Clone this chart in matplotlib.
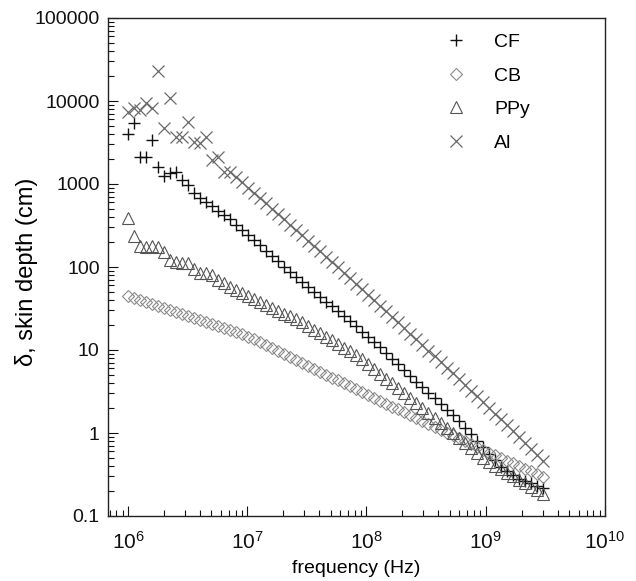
import matplotlib
matplotlib.use("Agg")
import matplotlib.pyplot as plt
from matplotlib.ticker import LogLocator, FixedLocator, FixedFormatter, NullFormatter

plt.rcParams['font.family'] = ['Liberation Sans', 'DejaVu Sans']
plt.rcParams['mathtext.fontset'] = 'custom'
plt.rcParams['mathtext.rm'] = 'Liberation Sans'
plt.rcParams['mathtext.it'] = 'Liberation Sans'

# frequency sweep (MHz)
freq_mhz = [1.000, 1.123, 1.261, 1.416, 1.591, 1.786, 2.006, 2.253, 2.531, 2.842,
            3.192, 3.585, 4.026, 4.522, 5.078, 5.702, 6.405, 7.193, 8.078, 9.071,
            10.19, 11.44, 12.85, 14.43, 16.21, 18.20, 20.44, 22.96, 25.78, 28.95,
            32.51, 36.51, 41.01, 46.05, 51.72, 58.08, 65.23, 73.25, 82.27, 92.39,
            103.8, 116.5, 130.9, 147.0, 165.1, 185.4, 208.2, 233.8, 262.6, 294.9,
            331.1, 371.9, 417.7, 469.1, 526.8, 591.6, 664.4, 746.2, 838.0, 941.1,
            1057, 1187, 1333, 1497, 1681, 1888, 2120, 2381, 2674, 3003]

cf = [3970, 5380, 2100, 2100, 3390, 1616, 1250, 1345, 1384, 1117,
      972, 773, 685, 608, 540, 479, 425, 376, 325, 281,
      243, 210, 182, 157, 136, 117, 101, 87.3, 75.3, 65.3,
      57.3, 50.0, 43.8, 38.3, 33.5, 29.2, 25.4, 22.1, 19.3, 16.7,
      14.5, 12.5, 10.8, 9.19, 7.84, 6.70, 5.71, 4.89, 4.16, 3.56,
      3.05, 2.61, 2.23, 1.90, 1.63, 1.38, 1.16, 0.97, 0.81, 0.68,
      0.566, 0.471, 0.394, 0.353, 0.316, 0.283, 0.263, 0.247, 0.232, 0.217]

cb = [44.2, 41.9, 39.6, 37.6, 35.6, 33.7, 32.0, 30.3, 28.7, 27.2,
      25.8, 24.4, 23.1, 21.9, 20.8, 19.6, 18.6, 17.5, 16.5, 15.5,
      14.5, 13.4, 12.4, 11.4, 10.5, 9.68, 8.91, 8.20, 7.55, 6.95,
      6.41, 5.92, 5.46, 5.04, 4.66, 4.30, 3.96, 3.66, 3.37, 3.12,
      2.88, 2.65, 2.45, 2.26, 2.08, 1.93, 1.78, 1.64, 1.51, 1.40,
      1.29, 1.19, 1.10, 1.01, 0.936, 0.865, 0.798, 0.736, 0.679, 0.627,
      0.579, 0.537, 0.499, 0.463, 0.431, 0.400, 0.372, 0.345, 0.321, 0.298]

ppy = [386, 236, 179, 173, 179, 173, 153, 121, 116, 113,
       111, 95, 84, 84, 80, 70, 65, 58, 53.0, 48.8,
       45.0, 41.4, 38.2, 35.2, 32.4, 29.9, 27.5, 25.4, 23.4, 21.5,
       19.5, 17.6, 16.0, 14.5, 13.1, 11.8, 10.7, 9.71, 8.79, 7.83,
       6.84, 5.96, 5.20, 4.53, 3.95, 3.44, 3.01, 2.62, 2.29, 1.99,
       1.74, 1.52, 1.32, 1.15, 1.00, 0.873, 0.760, 0.662, 0.575, 0.501,
       0.447, 0.405, 0.368, 0.334, 0.303, 0.275, 0.249, 0.226, 0.205, 0.186]

al = [7430, 8170, 7800, 9370, 8170, 23200, 4690, 10800, 3720, 3720,
      5640, 3240, 3090, 3720, 1950, 2130, 1410, 1390, 1208, 1045,
      905, 782, 676, 585, 505, 436, 377, 325, 281, 242,
      208, 180, 155, 133, 115, 98.7, 84.9, 72.9, 62.7, 53.9,
      46.2, 39.7, 34.0, 29.2, 25.0, 21.5, 18.4, 15.7, 13.5, 11.5,
      9.84, 8.41, 7.19, 6.14, 5.24, 4.47, 3.81, 3.25, 2.77, 2.36,
      2.01, 1.71, 1.46, 1.24, 1.05, 0.895, 0.760, 0.645, 0.547, 0.465]

labels = ['CF', 'CB', 'PPy', 'Al']
y_ticks = [0.1, 1, 10, 100, 1000, 10000, 100000]
y_ticklabels = ['0.1', '1', '10', '100', '1000', '10000', '100000']
x_ticks = [1e6, 1e7, 1e8, 1e9, 1e10]
x_ticklabels = [r'$10^{6}$', r'$10^{7}$', r'$10^{8}$', r'$10^{9}$', r'$10^{10}$']

freq = [f * 1e6 for f in freq_mhz]

fig = plt.figure(figsize=(6.36, 5.81), dpi=100)
ax = fig.add_axes([108/636, 1-516/581, (605-108)/636, (516-18)/581])

ax.plot(freq, cf, linestyle='none', marker='+', ms=9, mew=1.0, color='#111111', label=labels[0])
ax.plot(freq, cb, linestyle='none', marker='D', ms=6, mew=0.8, mfc='none', color='#8a8a8a', label=labels[1])
ax.plot(freq, ppy, linestyle='none', marker='^', ms=8, mew=0.8, mfc='none', color='#555555', label=labels[2])
ax.plot(freq, al, linestyle='none', marker='x', ms=9, mew=0.9, color='#6a6a6a', label=labels[3])

ax.set_xscale('log')
ax.set_yscale('log')
ax.set_xlim(6.8e5, 1e10)
ax.set_ylim(0.1, 1e5)

ax.xaxis.set_major_locator(FixedLocator(x_ticks))
ax.xaxis.set_major_formatter(FixedFormatter(x_ticklabels))
ax.xaxis.set_minor_locator(LogLocator(base=10, subs=range(2, 10)))
ax.xaxis.set_minor_formatter(NullFormatter())
ax.yaxis.set_major_locator(FixedLocator(y_ticks))
ax.yaxis.set_major_formatter(FixedFormatter(y_ticklabels))
ax.yaxis.set_minor_locator(LogLocator(base=10, subs=range(2, 10)))
ax.yaxis.set_minor_formatter(NullFormatter())

ax.tick_params(which='both', direction='in', top=False, right=False, labelsize=14, colors='#111111')
ax.tick_params(which='major', length=7, width=0.8)
ax.tick_params(which='minor', length=4, width=0.8)
ax.tick_params(axis='x', which='major', labelsize=15, pad=11)
ax.tick_params(axis='y', which='major', pad=6)
for s in ax.spines.values():
    s.set_linewidth(1.0)
    s.set_color('#222222')

ax.set_xlabel('frequency (Hz)', fontsize=14, labelpad=5)
ax.set_ylabel('δ, skin depth (cm)', fontsize=17)
ax.yaxis.set_label_coords(-0.14, 0.49)

leg = ax.legend(loc='upper left', bbox_to_anchor=(0.636, 1.004), frameon=False,
                fontsize=14, handletextpad=1.2, labelspacing=0.82, handlelength=1.5)

fig.savefig('out.png', dpi=100)
